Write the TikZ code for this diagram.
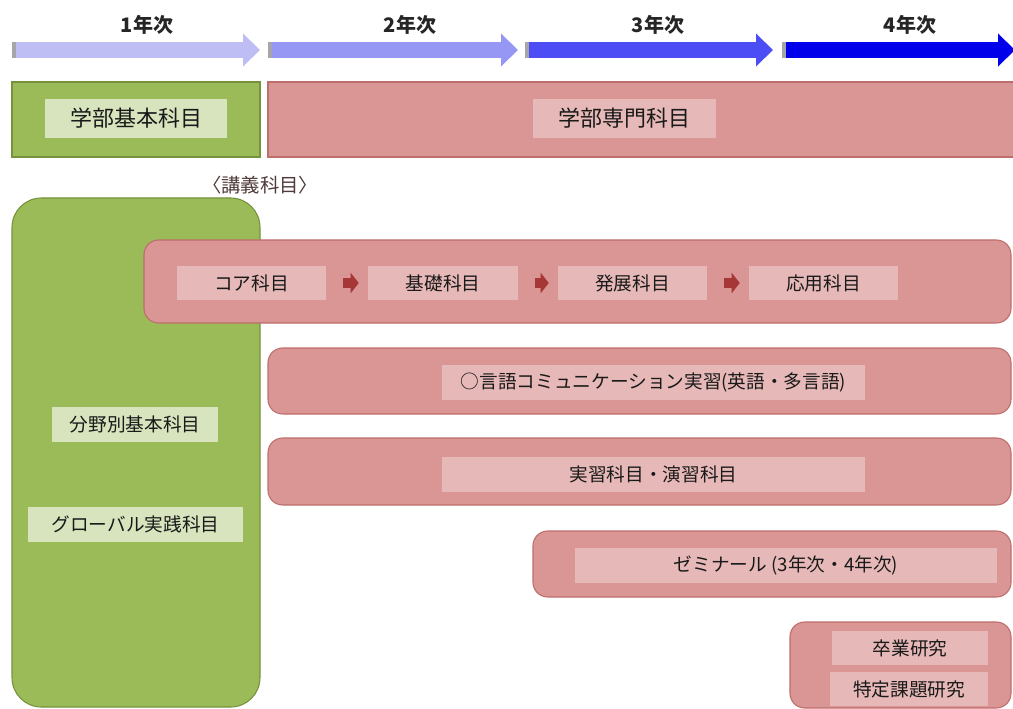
\documentclass[tikz,border=0pt]{standalone}
\usepackage{fontspec}
\setmainfont{Noto Sans CJK JP}
\usetikzlibrary{fit,arrows.meta}
\definecolor{grn}{RGB}{155,187,89}
\definecolor{grnd}{RGB}{118,146,60}
\definecolor{grnl}{RGB}{215,228,189}
\definecolor{rd}{RGB}{217,150,148}
\definecolor{rdd}{RGB}{190,110,108}
\definecolor{rdl}{RGB}{230,185,184}
\definecolor{arrred}{RGB}{165,55,55}
\definecolor{ya}{RGB}{190,190,245}
\definecolor{yb}{RGB}{150,150,245}
\definecolor{yc}{RGB}{77,77,245}
\definecolor{yd}{RGB}{0,0,235}
\definecolor{capgray}{RGB}{166,166,170}
\definecolor{lecture}{RGB}{80,58,58}
\tikzset{
  greenbox/.style={fill=grn, draw=grnd, line width=0.8pt, inner sep=0pt},
  redbox/.style={fill=rd, draw=rdd, line width=0.8pt, inner sep=0pt},
  sz/.style 2 args={minimum width=#1*0.75pt, minimum height=#2*0.75pt},
  glabel/.style={fill=grnl, inner sep=0pt, text=black!90, font=\fontsize{14}{16}\selectfont},
  rlabel/.style={fill=rdl, inner sep=0pt, text=black!90, font=\fontsize{14}{16}\selectfont},
  biglabel/.style={font=\fontsize{16.5}{18}\selectfont},
  yeararrow/.style={line width=12pt, -{Triangle[width=24pt,length=12.75pt]}},
  yearlabel/.style={font=\fontsize{15}{17}\selectfont\bfseries, text=black!85},
  steparrow/.style={arrred, line width=8pt, -{Triangle[width=15pt,length=6pt]}, shorten <=12.75pt, shorten >=6.75pt},
}
\begin{document}
\begin{tikzpicture}[x=0.75pt,y=-0.75pt]
\useasboundingbox (0,0) rectangle (1013,709);

% year arrows
\coordinate (a1s) at (12,50); \coordinate (a1e) at (260,50);
\coordinate (a2s) at (268,50); \coordinate (a2e) at (518,50);
\coordinate (a3s) at (525,50); \coordinate (a3e) at (773,50);
\coordinate (a4s) at (782,50); \coordinate (a4e) at (1015,50);
\draw[yeararrow, ya] (a1s) -- (a1e);
\draw[yeararrow, yb] (a2s) -- (a2e);
\draw[yeararrow, yc] (a3s) -- (a3e);
\draw[yeararrow, yd] (a4s) -- (a4e);
\foreach \s in {a1s,a2s,a3s,a4s}
  \fill[capgray] (\s) ++(0,-8) rectangle ++(4,16);
\node[yearlabel] (y1) at (147,25) {1年次};
\node[yearlabel] (y2) at (410,25) {2年次};
\node[yearlabel] (y3) at (658,25) {3年次};
\node[yearlabel] (y4) at (910,25) {4年次};

% top boxes
\node[greenbox, fit={(12,82)(260,157)}] (kihon) {};
\node[redbox, fit={(268,82)(1016,157)}] (senmon) {};
\node[glabel, biglabel, sz={182}{39}] (kihonl) at (136,118.5) {学部基本科目};
\node[rlabel, biglabel, sz={183}{39}] (senmonl) at (624.5,118.5) {学部専門科目};

\node[text=lecture, font=\fontsize{14.5}{16}\selectfont] (kogi) at (260,185) {〈講義科目〉};

% green tall box
\node[greenbox, rounded corners=22pt, fit={(12,198)(260,707)}] (bunya) {};
\node[glabel, sz={166}{35}] (bunyal) at (135,424.5) {分野別基本科目};
\node[glabel, sz={215}{35}] (global) at (135.5,524.5) {グローバル実践科目};

% core box
\node[redbox, rounded corners=11pt, fit={(144,240)(1011,323)}] (core) {};
\node[rlabel, sz={149}{34}] (c1) at (251.5,283) {コア科目};
\node[rlabel, sz={150}{34}] (c2) at (443,283) {基礎科目};
\node[rlabel, sz={149}{34}] (c3) at (632.5,283) {発展科目};
\node[rlabel, sz={149}{34}] (c4) at (823.5,283) {応用科目};
\draw[steparrow] (c1.east) -- (c2.west);
\draw[steparrow] (c2.east) -- (c3.west);
\draw[steparrow] (c3.east) -- (c4.west);

% language
\node[redbox, rounded corners=11pt, fit={(268,348)(1011,414)}] (lang) {};
\node[rlabel, sz={423}{35}] (langl) at (653.5,382.5) {○言語コミュニケーション実習(英語・多言語)};

% practice
\node[redbox, rounded corners=11pt, fit={(268,438)(1011,505)}] (prac) {};
\node[rlabel, sz={423}{35}] (pracl) at (653.5,474.5) {実習科目・演習科目};

% seminar
\node[redbox, rounded corners=11pt, fit={(533,531)(1011,597)}] (zemi) {};
\node[rlabel, sz={422}{35}] (zemil) at (786,565.5) {ゼミナール (3年次・4年次)};

% graduation
\node[redbox, rounded corners=11pt, fit={(790,622)(1011,708)}] (sotsu) {};
\node[rlabel, sz={156}{34}] (sotsul) at (910,648) {卒業研究};
\node[rlabel, sz={158}{34}] (tokutei) at (909,689) {特定課題研究};
\end{tikzpicture}
\end{document}
